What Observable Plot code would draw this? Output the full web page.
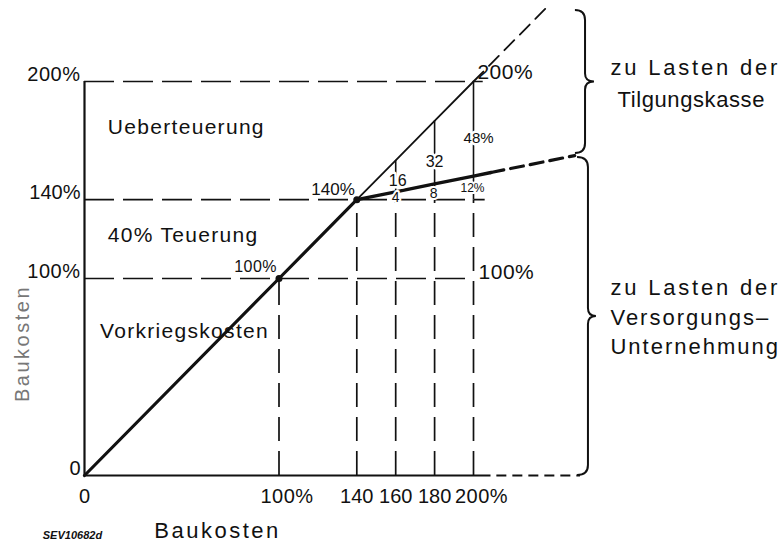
<!DOCTYPE html>
<html>
<head>
<meta charset="utf-8">
<script src="https://cdn.jsdelivr.net/npm/d3@7"></script>
<script src="https://cdn.jsdelivr.net/npm/@observablehq/plot@0.6"></script>
<style>
  body { margin: 0; background: #fff; }
</style>
</head>
<body>
<script>
// ---- Tick values and labels (Baukosten in %) ----
const xTicks = [0, 100, 140, 160, 180, 200];
const xTickLabels = ["0", "100%", "140", "160", "180", "200%"];
const yTicks = [0, 100, 140, 200];
const yTickLabels = ["0", "100%", "140%", "200%"];

// ---- Total construction cost line (y = x) ----
const totalLowX = [0, 100, 140];
const totalLowY = [0, 100, 140];
const totalHighX = [140, 160, 180, 200];
const totalHighY = [140, 160, 180, 200];
const totalExtX = [200, 237];
const totalExtY = [200, 237];

// ---- Share borne by the utility (Versorgungs-Unternehmung) ----
const utilityX = [140, 160, 180, 200, 209];
const utilityY = [140, 144, 148, 152, 153.8];
const utilityExtX = [209, 252];
const utilityExtY = [153.8, 162.4];

// ---- Shares at 160 / 180 / 200 % ----
const shareX = [160, 180, 200];
const excessLabels = ["16", "32", "48%"];
const excessLabelX = [161, 180, 202.6];
const excessLabelY = [149.7, 159.4, 171];
const utilityShares = [4, 8, 12];
const utilityLabels = ["4", "8", "12%"];
const utilityLabelX = [160, 179.5, 199.5];
const utilityLabelY = [141, 143, 145.7];

// ---- Reference lines ----
const hLevels = [100, 140, 200];
const hEnds = [200, 206, 205];
const vLevels = [100, 140, 160, 180, 200];
const vDashTop = [100, 140, 140, 140, 140];
const axisSolidEnd = 209;
const axisDashEnd = 255;

// ---- Key points ----
const keyPoints = [100, 140];
const pointLabels = ["100%", "140%"];
const pointLabelX = [99, 139];
const pointLabelY = [106, 145.2];
const endLabels = ["200%", "100%"];
const endLabelX = [202, 202.6];
const endLabelY = [204.6, 103];

// ---- Region labels ----
const regionLabels = ["Ueberteuerung", "40% Teuerung", "Vorkriegskosten"];
const regionX = [12, 12, 8];
const regionY = [177, 122, 73];

// ---- Braces and side texts ----
const braceTop = [236, 161.4];
const braceBottom = [163.5, 0];
const braceEndX = [252.4, 253.5];
const braceSpineX = [257.6, 259.1];
const braceTipX = [262.2, 263.2];
const sideLines = ["zu Lasten der", "Tilgungskasse", "zu Lasten der", "Versorgungs\u2013", "Unternehmung"];
const sideX = [270.4, 274, 270.4, 270.4, 270.4];
const sideY = [207, 190.4, 95, 80.2, 65];

const axisTitle = "Baukosten";
const figureCode = "SEV10682d";

const FONT = "'Liberation Sans', Arial, sans-serif";
const INK = "#111";
const idx = a => a.map((_, i) => i);

function braces(index, scales) {
  const {x, y} = scales;
  const g = d3.create("svg:g").attr("fill", "none").attr("stroke", INK).attr("stroke-width", 2);
  const r = 10;
  for (let i = 0; i < braceTop.length; i++) {
    const yt = y(braceTop[i]), yb = y(braceBottom[i]), ym = (yt + yb) / 2;
    const xs = x(braceEndX[i]), xv = x(braceSpineX[i]), xt = x(braceTipX[i]);
    g.append("path").attr("d",
      `M${xs},${yt} Q${xv},${yt} ${xv},${yt + r} L${xv},${ym - 8} Q${xv},${ym} ${xt},${ym} Q${xv},${ym} ${xv},${ym + 8} L${xv},${yb - r} Q${xv},${yb} ${xs},${yb}`);
  }
  return g.node();
}

const chart = Plot.plot({
  width: 784,
  height: 544,
  marginLeft: 84,
  marginRight: 311,
  marginTop: 81,
  marginBottom: 69,
  x: {domain: [0, 200], axis: null},
  y: {domain: [0, 200], axis: null},
  style: {background: "#fff", fontFamily: FONT, color: INK},
  marks: [
    // horizontal dashed reference lines
    Plot.ruleY(idx(hLevels), {y: i => hLevels[i], x1: 0, x2: i => hEnds[i], stroke: INK, strokeWidth: 1.7, strokeDasharray: "30,9"}),
    // vertical dashed lines
    Plot.ruleX(idx(vLevels), {x: i => vLevels[i], y1: 0, y2: i => vDashTop[i], stroke: INK, strokeWidth: 1.7, strokeDasharray: "24,10"}),
    // vertical solid parts above 140
    Plot.ruleX(idx(shareX), {x: i => shareX[i], y1: 140, y2: i => shareX[i], stroke: INK, strokeWidth: 1.6}),
    // axes
    Plot.ruleX([0], {y1: 0, y2: 200, stroke: INK, strokeWidth: 2.2}),
    Plot.ruleY([0], {x1: 0, x2: axisSolidEnd, stroke: INK, strokeWidth: 2.2}),
    Plot.ruleY([0], {x1: axisSolidEnd + 3, x2: axisDashEnd, stroke: INK, strokeWidth: 2, strokeDasharray: "10,6"}),
    // total cost line
    Plot.line(idx(totalLowX), {x: i => totalLowX[i], y: i => totalLowY[i], stroke: INK, strokeWidth: 3.2}),
    Plot.line(idx(totalHighX), {x: i => totalHighX[i], y: i => totalHighY[i], stroke: INK, strokeWidth: 1.8}),
    Plot.line(idx(totalExtX), {x: i => totalExtX[i], y: i => totalExtY[i], stroke: INK, strokeWidth: 1.8, strokeDasharray: "14,8"}),
    // utility line
    Plot.line(idx(utilityX), {x: i => utilityX[i], y: i => utilityY[i], stroke: INK, strokeWidth: 3.4}),
    Plot.line(idx(utilityExtX), {x: i => utilityExtX[i], y: i => utilityExtY[i], stroke: INK, strokeWidth: 3.2, strokeDasharray: "13,7"}),
    // key points
    Plot.dot(keyPoints, {x: d => d, y: d => d, r: 3.5, fill: INK}),
    // braces
    braces,
    // share labels
    Plot.text(idx(excessLabels), {x: i => excessLabelX[i], y: i => excessLabelY[i], text: i => excessLabels[i], fontSize: i => (i === 2 ? 15 : 16), stroke: "#fff", strokeWidth: 5, fill: INK}),
    Plot.text(idx(utilityLabels), {x: i => utilityLabelX[i], y: i => utilityLabelY[i], text: i => utilityLabels[i], fontSize: i => (i === 2 ? 12 : 14), stroke: "#fff", strokeWidth: 4, fill: INK}),
    // point labels
    Plot.text(idx(pointLabels), {x: i => pointLabelX[i], y: i => pointLabelY[i], text: i => pointLabels[i], textAnchor: "end", fontSize: i => (i === 0 ? 16 : 17), fill: INK}),
    Plot.text(idx(endLabels), {x: i => endLabelX[i], y: i => endLabelY[i], text: i => endLabels[i], textAnchor: "start", fontSize: 21, fill: INK}),
    // region labels
    Plot.text(idx(regionLabels), {x: i => regionX[i], y: i => regionY[i], text: i => regionLabels[i], textAnchor: "start", fontSize: 21, fill: INK}),
    // tick labels
    Plot.text(idx(yTicks), {x: 0, y: i => yTicks[i], text: i => yTickLabels[i], textAnchor: "end", dx: -4, dy: -7, fontSize: 20, fill: INK}),
    Plot.text(idx(xTicks).filter(i => !xTickLabels[i].includes("%")), {x: i => xTicks[i], y: 0, text: i => xTickLabels[i], dy: 21, fontSize: 20, fill: INK}),
    Plot.text(idx(xTicks).filter(i => xTickLabels[i].includes("%")), {x: i => xTicks[i], y: 0, text: i => xTickLabels[i], dx: 8, dy: 21, fontSize: 20, fill: INK}),
    // axis titles
    Plot.text([axisTitle], {x: 68.4, y: -28, text: d => d, fontSize: 22, fill: INK}),
    Plot.text([axisTitle], {x: -32, y: 67, text: d => d, rotate: -90, fontSize: 20, fill: "#777"}),
    Plot.text([figureCode], {x: -6.2, y: -30.5, text: d => d, fontSize: 11, fontStyle: "italic", fontWeight: "bold", fill: INK}),
    // side texts
    Plot.text(idx(sideLines), {x: i => sideX[i], y: i => sideY[i], text: i => sideLines[i], textAnchor: "start", fontSize: 22, fill: INK})
  ]
});

// stencil-lettering spacing for word labels
d3.select(chart).selectAll("text").each(function () {
  const t = this.textContent;
  let ls = 0;
  if (t === "zu Lasten der") ls = 2.8;
  else if (t === "Tilgungskasse") ls = 0.6;
  else if (sideLines.includes(t)) ls = 2;
  else if (regionLabels.includes(t)) ls = 1.3;
  else if (t === axisTitle) ls = 2.5;
  else if (endLabels.includes(t)) ls = 0.5;
  if (ls) this.style.letterSpacing = ls + "px";
});
document.body.appendChild(chart);
</script>
</body>
</html>
